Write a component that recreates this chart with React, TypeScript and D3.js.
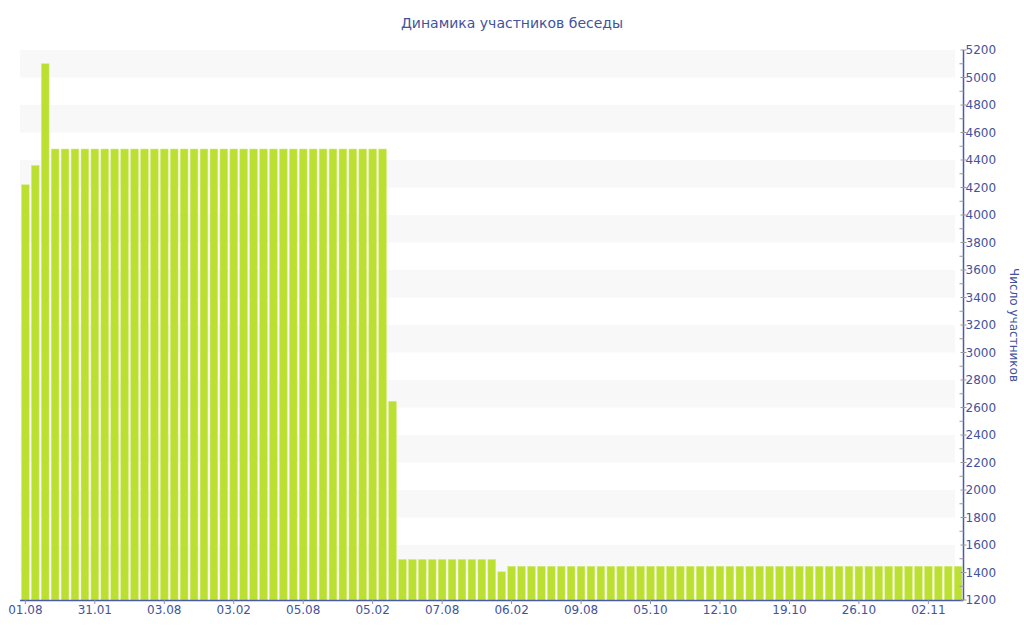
import React from "react";
import * as d3 from "d3";

const title = "Динамика участников беседы";
const yTitle = "Число участников";

const values: number[] = [
  4220, 4360, 5100,
  4480, 4480, 4480, 4480, 4480, 4480, 4480, 4480, 4480, 4480,
  4480, 4480, 4480, 4480, 4480, 4480, 4480, 4480, 4480, 4480,
  4480, 4480, 4480, 4480, 4480, 4480, 4480, 4480, 4480, 4480,
  4480, 4480, 4480, 4480,
  2645,
  1495, 1495, 1495, 1495, 1495, 1495, 1495, 1495, 1495, 1495,
  1405,
  1445, 1445, 1445, 1445, 1445, 1445, 1445, 1445, 1445, 1445,
  1445, 1445, 1445, 1445, 1445, 1445, 1445, 1445, 1445, 1445,
  1445, 1445, 1445, 1445, 1445, 1445, 1445, 1445, 1445, 1445,
  1445, 1445, 1445, 1445, 1445, 1445, 1445, 1445, 1445, 1445,
  1445, 1445, 1445, 1445, 1445, 1445,
];

const tickLabels: string[] = [
  "01.08", "31.01", "03.08", "03.02", "05.08", "05.02", "07.08",
  "06.02", "09.08", "05.10", "12.10", "19.10", "26.10", "02.11",
];
const tickEvery = 7;

const yMin = 1200;
const yMax = 5200;

const W = 1024;
const H = 640;
const left = 20;
const right = 963.5;
const top = 50;
const bottom = 600;

const textColor = "#42539c";
const axisColor = "#4a5aa8";
const barColor = "#bce032";
const font = "'DejaVu Sans', Verdana, sans-serif";

export default function App() {
  const x = d3
    .scaleBand<number>()
    .domain(values.map((_, i) => i))
    .range([left, right])
    .paddingInner(0.22)
    .paddingOuter(0.15);
  const y = d3.scaleLinear().domain([yMin, yMax]).range([bottom, top]);

  const majorTicks = d3.range(yMin, yMax + 1, 200);
  const minorTicks = d3.range(yMin + 100, yMax, 200);
  const bands = d3.range(yMin + 200, yMax, 400);

  return (
    <svg
      width={W}
      height={H}
      style={{ position: "absolute", left: 0, top: 0, background: "#fff" }}
      fontFamily={font}
    >
      <text x={512} y={28} textAnchor="middle" fontSize={14} fill={textColor}>
        {title}
      </text>
      {bands.map((b) => (
        <rect
          key={b}
          x={left}
          width={955 - left}
          y={y(b + 200)}
          height={y(b) - y(b + 200)}
          fill="#f8f8f8"
        />
      ))}
      {values.map((v, i) => (
        <rect
          key={i}
          x={x(i)!}
          width={x.bandwidth()}
          y={y(v)}
          height={y(yMin) - y(v)}
          fill={barColor}
          stroke="#d4ec7a"
          strokeWidth={0.5}
        />
      ))}
      {/* x axis */}
      <line x1={left} x2={right} y1={bottom + 0.5} y2={bottom + 0.5} stroke={axisColor} strokeWidth={1.5} />
      {tickLabels.map((t, k) => {
        const cx = x(k * tickEvery)! + x.bandwidth() / 2;
        return (
          <g key={t + k}>
            <line x1={cx} x2={cx} y1={bottom} y2={bottom + 4} stroke="#8890b8" />
            <text x={cx} y={bottom + 14} textAnchor="middle" fontSize={12} fill={textColor}>
              {t}
            </text>
          </g>
        );
      })}
      {/* y axis right */}
      <line x1={right} x2={right} y1={top} y2={bottom} stroke={axisColor} strokeWidth={1.5} />
      {minorTicks.map((t) => (
        <line key={"m" + t} x1={right - 4} x2={right} y1={y(t)} y2={y(t)} stroke="#999" />
      ))}
      {majorTicks.map((t) => (
        <g key={t}>
          <line x1={right - 3} x2={right + 3} y1={y(t)} y2={y(t)} stroke="#999" />
          <text x={right + 2} y={y(t) + 4} fontSize={12} fill={textColor}>
            {t}
          </text>
        </g>
      ))}
      <text
        transform={`translate(1010, 325) rotate(90)`}
        textAnchor="middle"
        fontSize={12}
        fill={textColor}
      >
        {yTitle}
      </text>
    </svg>
  );
}
